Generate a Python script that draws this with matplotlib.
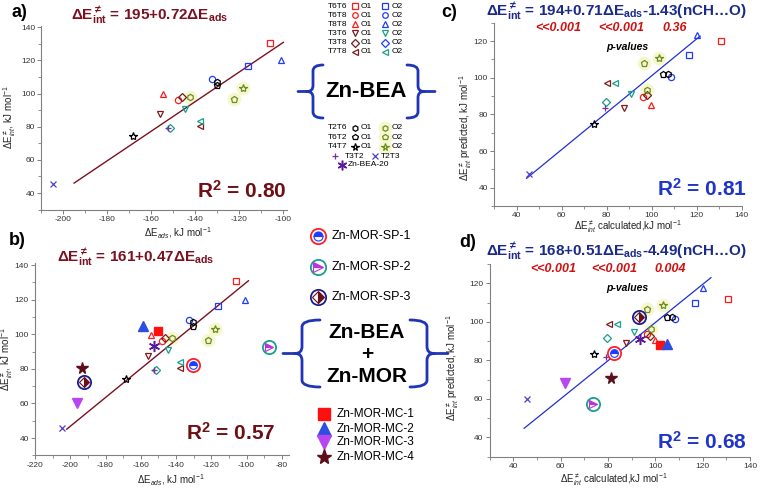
import matplotlib
matplotlib.use('Agg')
import matplotlib.pyplot as plt
import matplotlib.patches as patches
from matplotlib.path import Path
from matplotlib.ticker import MultipleLocator

plt.rcParams['font.family'] = ['Liberation Sans', 'DejaVu Sans']
plt.rcParams['mathtext.fontset'] = 'custom'
plt.rcParams['mathtext.rm'] = 'Liberation Sans'
plt.rcParams['mathtext.it'] = 'Liberation Sans:italic'
plt.rcParams['mathtext.bf'] = 'Liberation Sans:bold'
plt.rcParams['axes.unicode_minus'] = False

# --- data: Zn-BEA sites ---
bea_names = ['T6T6-O1', 'T6T6-O2', 'T6T8-O1', 'T6T8-O2', 'T8T8-O1', 'T8T8-O2',
             'T3T6-O1', 'T3T6-O2', 'T3T8-O1', 'T3T8-O2', 'T7T8-O1', 'T7T8-O2',
             'T2T6-O1', 'T2T6-O2', 'T6T2-O1', 'T6T2-O2', 'T4T7-O1', 'T4T7-O2',
             'T3T2', 'T2T3']
bea_ads = [-106.0, -116.0, -147.9, -132.4, -154.4, -100.8,
           -155.9, -144.5, -146.0, -151.4, -137.7, -137.7,
           -130.1, -142.2, -130.1, -122.0, -168.1, -117.9,
           -152.4, -204.6]
bea_calc = [130.7, 116.6, 96.3, 108.5, 99.7, 120.0,
            87.6, 90.8, 97.9, 79.5, 80.3, 83.7,
            107.1, 98.1, 104.9, 96.7, 74.3, 103.1,
            79.1, 45.6]
bea_pred_c = [120.0, 112.2, 89.5, 100.5, 85.3, 123.5,
              83.6, 91.3, 90.4, 86.7, 96.9, 96.9,
              102.0, 93.3, 102.0, 107.8, 74.7, 110.9,
              83.3, 47.5]
bea_pred_d = [111.9, 109.8, 93.5, 101.5, 90.6, 117.7,
              89.2, 94.9, 92.5, 91.4, 98.7, 98.7,
              102.7, 96.1, 102.7, 106.5, 83.3, 108.7,
              81.9, 60.1]

# --- data: Zn-MOR sites (+ Zn-BEA-20) ---
mor_names = ['Zn-BEA-20', 'Zn-MOR-MC-1', 'Zn-MOR-MC-2', 'Zn-MOR-MC-3', 'Zn-MOR-MC-4',
             'Zn-MOR-SP-1', 'Zn-MOR-SP-2', 'Zn-MOR-SP-3']
mor_ads = [-152.5, -150.0, -158.5, -196.4, -193.5, -130.5, -87.0, -192.0]
mor_calc = [93.2, 102.0, 104.7, 60.3, 80.5, 82.1, 92.9, 72.4]
mor_calc_d = [93.7, 102.1, 105.1, 61.8, 81.3, 82.5, 73.8, 93.2]
mor_pred_d = [91.3, 88.0, 88.7, 68.4, 70.6, 84.0, 57.3, 102.3]

# regression lines (end points as drawn)
fit_a_x, fit_a_y = [-195.1, -99.7], [46.0, 130.9]
fit_b_x, fit_b_y = [-202.0, -98.9], [45.1, 130.9]
fit_c_x, fit_c_y = [44.4, 121.5], [45.1, 122.7]
fit_d_x, fit_d_y = [44.6, 123.5], [44.7, 122.9]

RED = '#FF1A1A'
BLUE = '#1E3CFF'
DKRED = '#7A1A1A'
TEAL = '#17A08A'
OLIVE = '#6B8E23'
PURPLE = '#7B2FA0'
VIOLET = '#4B3FD0'
GLOW = '#F7F7CF'
EQ_RED = '#7B1020'
EQ_BLUE = '#1C2A8A'
R2_BLUE = '#1F35C8'
PVAL = '#D01010'
BRACE = '#1F35B5'

bea_style = {
    'T6T6-O1': ('s', RED), 'T6T6-O2': ('s', BLUE),
    'T6T8-O1': ('o', RED), 'T6T8-O2': ('o', BLUE),
    'T8T8-O1': ('^', RED), 'T8T8-O2': ('^', BLUE),
    'T3T6-O1': ('v', DKRED), 'T3T6-O2': ('v', TEAL),
    'T3T8-O1': ('D', DKRED), 'T3T8-O2': ('D', TEAL),
    'T7T8-O1': ('<', DKRED), 'T7T8-O2': ('<', TEAL),
    'T2T6-O1': ('h', 'black'), 'T2T6-O2': ('h', OLIVE),
    'T6T2-O1': ('p', 'black'), 'T6T2-O2': ('p', OLIVE),
    'T4T7-O1': ('*', 'black'), 'T4T7-O2': ('*', OLIVE),
    'T3T2': ('+', PURPLE), 'T2T3': ('x', VIOLET),
}
mc_style = {
    'Zn-MOR-MC-1': ('s', '#FF1010', 6.0),
    'Zn-MOR-MC-2': ('^', '#2C4FE0', 7.0),
    'Zn-MOR-MC-3': ('v', '#B845F0', 7.0),
    'Zn-MOR-MC-4': ('*', '#5C0F1A', 8.5),
}
sp_style = {
    'Zn-MOR-SP-1': ('#FF2020', 'o', '#1E3CFF', 'top'),
    'Zn-MOR-SP-2': (TEAL, '>', '#C030E0', 'top'),
    'Zn-MOR-SP-3': ('#1A1A90', 'D', '#6B0F1A', 'right'),
}

W, H = 760, 491
fig = plt.figure(figsize=(7.6, 4.91), dpi=100)


def px_axes(l, t, r, b):
    return fig.add_axes([l / W, 1 - b / H, (r - l) / W, (b - t) / H])


def setup(ax, xlim, ylim):
    ax.set_xlim(*xlim)
    ax.set_ylim(*ylim)
    ax.patch.set_alpha(0)
    for s in ['top', 'right']:
        ax.spines[s].set_visible(False)
    for s in ['left', 'bottom']:
        ax.spines[s].set_color('#808080')
        ax.spines[s].set_linewidth(0.8)
    ax.xaxis.set_major_locator(MultipleLocator(20))
    ax.xaxis.set_minor_locator(MultipleLocator(10))
    ax.yaxis.set_major_locator(MultipleLocator(20))
    ax.yaxis.set_minor_locator(MultipleLocator(10))
    ax.tick_params(which='major', direction='out', length=3, width=0.7,
                   color='#808080', labelsize=6, labelcolor='#333333', pad=1.5)
    ax.tick_params(which='minor', direction='out', length=2, width=0.6, color='#808080')


def point(ax, x, y, m, c, ms=4.5, mfc='none', glow=False):
    if glow:
        ax.plot(x, y, 'o', ms=10, color=GLOW, mec='none', zorder=1)
    if m == '*':
        ms = ms + 1.5
    ax.plot(x, y, marker=m, ms=ms, mfc=mfc, mec=c, mew=0.9, ls='none', zorder=3)


def sp_marker(ax, x, y, name, ring=9.5, inner=5.5):
    rc, m, c, fs = sp_style[name]
    ax.plot(x, y, 'o', ms=ring, mfc='white', mec=rc, mew=1.3, zorder=4)
    ax.plot(x, y, marker=m, ms=inner, color=c, mec=c, mew=0.8,
            fillstyle=fs, markerfacecoloralt='white', zorder=5)


def plot_bea(ax, xs, ys):
    for name, x, y in zip(bea_names, xs, ys):
        m, c = bea_style[name]
        point(ax, x, y, m, c, glow=(c == OLIVE))


def plot_mor(ax, xs, ys):
    for name, x, y in zip(mor_names, xs, ys):
        if name == 'Zn-BEA-20':
            ax.plot(x, y, marker=(6, 2, 0), ms=8, mec='#5B1A9E', mew=1.1,
                    ls='none', zorder=4)
        elif name in mc_style:
            m, c, ms = mc_style[name]
            ax.plot(x, y, marker=m, ms=ms, color=c, ls='none', zorder=4)
        else:
            sp_marker(ax, x, y, name)


# panel a
ax_a = px_axes(41.4, 25.6, 287.1, 209.6)
setup(ax_a, (-210, -98), (30, 141))
ax_a.plot(fit_a_x, fit_a_y, color=EQ_RED, lw=1.0, zorder=2)
plot_bea(ax_a, bea_ads, bea_calc)

# panel b
ax_b = px_axes(35, 263.3, 288.8, 455.3)
setup(ax_b, (-220, -76), (30, 141))
ax_b.plot(fit_b_x, fit_b_y, color=EQ_RED, lw=1.0, zorder=2)
plot_bea(ax_b, bea_ads, bea_calc)
plot_mor(ax_b, mor_ads, mor_calc)

# panel c
ax_c = px_axes(494.2, 22.7, 741.7, 206)
setup(ax_c, (30, 140), (30, 130))
ax_c.plot(fit_c_x, fit_c_y, color='#2030D0', lw=0.9, zorder=2)
plot_bea(ax_c, bea_calc, bea_pred_c)

# panel d
ax_d = px_axes(489.6, 264, 750, 456.6)
setup(ax_d, (30, 140), (30, 130))
ax_d.plot(fit_d_x, fit_d_y, color='#2030D0', lw=0.9, zorder=2)
plot_bea(ax_d, bea_calc, bea_pred_d)
plot_mor(ax_d, mor_calc_d, mor_pred_d)

# overlay in pixel coordinates for labels and legend blocks
ov = fig.add_axes([0, 0, 1, 1], zorder=10)
ov.set_xlim(0, W)
ov.set_ylim(H, 0)
ov.axis('off')
ov.patch.set_alpha(0)

for lab, x, y in [('a)', 19, 12), ('b)', 17, 240), ('c)', 449, 12), ('d)', 468, 242)]:
    ov.text(x, y, lab, fontsize=13, fontweight='bold', ha='center', va='center')

lab_ads = r'$\Delta$E$_{ads}$, kJ mol$^{-1}$'
lab_int = r'$\Delta$E$^{\neq}_{int}$, kJ mol$^{-1}$'
lab_calc = r'$\Delta$E$^{\neq}_{int}$ calculated,kJ mol$^{-1}$'
lab_pred = r'$\Delta$E$^{\neq}_{int}$ predicted, kJ mol$^{-1}$'
lkw = dict(fontsize=7, ha='center', va='center', color='#222222')
ov.text(178, 233, lab_ads, **lkw)
ov.text(171, 480, lab_ads, **lkw)
ov.text(10, 117, lab_int, rotation=90, **lkw)
ov.text(7, 359, lab_int, rotation=90, **lkw)
ov.text(628, 227, lab_calc, **lkw)
ov.text(614, 480, lab_calc, **lkw)
ov.text(466, 128, lab_pred, rotation=90, **lkw)
ov.text(453, 368, lab_pred, rotation=90, **lkw)

# equations
ekw = dict(fontsize=11, fontweight='bold', ha='center', va='center')
ov.text(150, 15, r'$\mathbf{\Delta E^{\neq}_{int}}$ = 195+0.72$\mathbf{\Delta E_{ads}}$',
        color=EQ_RED, **ekw)
ov.text(136, 257, r'$\mathbf{\Delta E^{\neq}_{int}}$ = 161+0.47$\mathbf{\Delta E_{ads}}$',
        color=EQ_RED, **ekw)
ov.text(616, 11, r'$\mathbf{\Delta E^{\neq}_{int}}$ = 194+0.71$\mathbf{\Delta E_{ads}}$-1.43(nCH…O)',
        color=EQ_BLUE, **ekw)
ov.text(616, 251, r'$\mathbf{\Delta E^{\neq}_{int}}$ = 168+0.51$\mathbf{\Delta E_{ads}}$-4.49(nCH…O)',
        color=EQ_BLUE, **ekw)

pkw = dict(fontsize=9, fontweight='bold', fontstyle='italic', color=PVAL,
           ha='center', va='center')
for txt, x in [('<<0.001', 558), ('<<0.001', 621), ('0.36', 675)]:
    ov.text(x, 28, txt, **pkw)
for txt, x in [('<<0.001', 553), ('<<0.001', 614), ('0.004', 670)]:
    ov.text(x, 268.5, txt, **pkw)
ov.text(627, 47, 'p-values', fontsize=7.5, fontweight='bold', fontstyle='italic', ha='center', va='center')
ov.text(627, 288, 'p-values', fontsize=7.5, fontweight='bold', fontstyle='italic', ha='center', va='center')

# R2
rkw = dict(fontsize=15, fontweight='bold', ha='right', va='baseline')
ov.text(287, 198, r'R$^{\mathbf{2}}$ = 0.80', color='#6E0F14', **rkw)
ov.text(275, 440, r'R$^{\mathbf{2}}$ = 0.57', color='#6E0F14', **rkw)
ov.text(747, 196, r'R$^{\mathbf{2}}$ = 0.81', color=R2_BLUE, **rkw)
ov.text(747, 449, r'R$^{\mathbf{2}}$ = 0.68', color=R2_BLUE, **rkw)


def brace(ax, x_tip, x_bar, x_end, y_top, y_bot, r=6):
    ym = (y_top + y_bot) / 2
    st = 1 if x_tip > x_bar else -1
    verts = [(x_end, y_top), (x_bar, y_top), (x_bar, y_top + r),
             (x_bar, ym - r), (x_bar, ym), (x_bar + st * r, ym), (x_tip, ym),
             (x_bar + st * r, ym), (x_bar, ym), (x_bar, ym + r),
             (x_bar, y_bot - r), (x_bar, y_bot), (x_end, y_bot)]
    codes = [Path.MOVETO, Path.CURVE3, Path.CURVE3,
             Path.LINETO, Path.CURVE3, Path.CURVE3, Path.LINETO,
             Path.MOVETO, Path.CURVE3, Path.CURVE3,
             Path.LINETO, Path.CURVE3, Path.CURVE3]
    ax.add_patch(patches.PathPatch(Path(verts, codes), fill=False, lw=2.0,
                                   edgecolor=BRACE, capstyle='round'))


# Zn-BEA legend block
leg_rows_top = ['T6T6', 'T6T8', 'T8T8', 'T3T6', 'T3T8', 'T7T8']
leg_rows_bot = ['T2T6', 'T6T2', 'T4T7']
legend_override = {'T3T8-O2': ('D', BLUE)}


def legend_row(site, y):
    ov.text(337.5, y, site, fontsize=6, ha='center', va='center')
    for o, xm, xt in [('O1', 355, 361), ('O2', 385, 392)]:
        key = site + '-' + o
        m, c = legend_override.get(key, bea_style[key])
        point(ov, xm, y, m, c, ms=4.0, glow=(c == OLIVE))
        ov.text(xt, y, o, fontsize=6, ha='left', va='center')


for i, site in enumerate(leg_rows_top):
    legend_row(site, 6 + i * 9.15)
for i, site in enumerate(leg_rows_bot):
    legend_row(site, 127.7 + i * 9.5)

point(ov, 335, 156, '+', PURPLE, ms=5)
ov.text(345, 156, 'T3T2', fontsize=6, ha='left', va='center')
point(ov, 375, 156, 'x', VIOLET, ms=5)
ov.text(381, 156, 'T2T3', fontsize=6, ha='left', va='center')
ov.plot(342, 164.5, marker=(6, 2, 0), ms=7, mec='#5B1A9E', mew=1.1)
ov.text(348, 164.5, 'Zn-BEA-20', fontsize=6, ha='left', va='center')

brace(ov, 298, 313, 323, 65, 118)
brace(ov, 435, 418, 407, 65, 118)
ov.text(366, 91, 'Zn-BEA', fontsize=16, fontweight='bold', ha='center', va='center')

# Zn-MOR single-point legend
for name, y in zip(['Zn-MOR-SP-1', 'Zn-MOR-SP-2', 'Zn-MOR-SP-3'], [236, 267, 297]):
    sp_marker(ov, 318, y, name, ring=11, inner=6.5)
    ov.text(332, y, name, fontsize=9, ha='left', va='center')

brace(ov, 283, 302, 320, 320, 387, r=7)
brace(ov, 448, 427, 410, 320, 387, r=7)
ov.text(367, 333, 'Zn-BEA', fontsize=15, fontweight='bold', ha='center', va='center')
ov.text(367, 354, '+', fontsize=15, fontweight='bold', ha='center', va='center')
ov.text(367, 377, 'Zn-MOR', fontsize=15, fontweight='bold', ha='center', va='center')

for name, y in zip(['Zn-MOR-MC-1', 'Zn-MOR-MC-2', 'Zn-MOR-MC-3', 'Zn-MOR-MC-4'],
                   [414, 429, 442, 457]):
    m, c, ms = mc_style[name]
    ov.plot(324, y, marker=m, ms=ms + 2.5, color=c)
    ov.text(337, y, name, fontsize=8.5, ha='left', va='center')

fig.savefig('out.png', dpi=100)
